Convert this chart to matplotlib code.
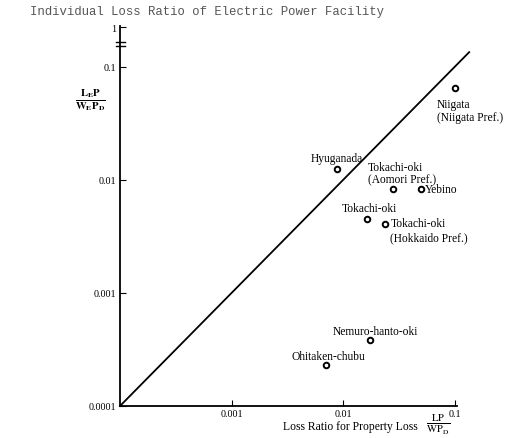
import matplotlib
matplotlib.use("Agg")
import matplotlib.pyplot as plt
from matplotlib.ticker import FixedLocator, FixedFormatter, NullLocator

plt.rcParams["font.family"] = ["Liberation Serif", "DejaVu Serif"]
plt.rcParams["mathtext.fontset"] = "stix"

# Earthquake events: property loss ratio (x) vs electric power facility loss ratio (y)
events = ["Niigata\n(Niigata Pref.)", "Hyuganada", "Tokachi-oki\n(Aomori Pref.)",
          "Yebino", "Tokachi-oki", "Tokachi-oki\n(Hokkaido Pref.)",
          "Nemuro-hanto-oki", "Ohitaken-chubu"]
property_loss = [0.100, 0.0088, 0.028, 0.050, 0.0164, 0.0237, 0.0174, 0.0070]
power_loss = [0.065, 0.0125, 0.0083, 0.0083, 0.0045, 0.0041, 0.00038, 0.00023]

# label placement (offset in points, alignment, line spacing)
label_style = [
    ((-13, -7), "left", "top", 1.1),
    ((0, 8), "center", "center", 1.1),
    ((-18, 20.5), "left", "top", 1.05),
    ((3, 0), "left", "center", 1.1),
    ((2, 8), "center", "center", 1.1),
    ((4, 4.5), "left", "top", 1.25),
    ((4, 6.5), "center", "center", 1.1),
    ((1.5, 6.5), "center", "center", 1.1),
]

x_ticks = [0.001, 0.01, 0.1]
x_tick_labels = ["0.001", "0.01", "0.1"]
y_ticks = [0.0001, 0.001, 0.01, 0.1, 0.225]
y_tick_labels = ["0.0001", "0.001", "0.01", "0.1", "1"]
diag = [0.0001, 0.135]

fig = plt.figure(figsize=(5.12, 4.39), dpi=100)
ax = fig.add_axes([120 / 512, 32 / 439, 337 / 512, 380 / 439])
ax.set_xscale("log")
ax.set_yscale("log")
ax.set_xlim(1e-4, 0.105)
ax.set_ylim(1e-4, 0.23)

for s in ["top", "right"]:
    ax.spines[s].set_visible(False)
for s in ["left", "bottom"]:
    ax.spines[s].set_linewidth(1.3)

ax.xaxis.set_major_locator(FixedLocator(x_ticks))
ax.xaxis.set_major_formatter(FixedFormatter(x_tick_labels))
ax.yaxis.set_major_locator(FixedLocator(y_ticks))
ax.yaxis.set_major_formatter(FixedFormatter(y_tick_labels))
ax.xaxis.set_minor_locator(NullLocator())
ax.yaxis.set_minor_locator(NullLocator())
ax.tick_params(direction="in", length=4, width=0.8, labelsize=7.3, pad=3)
ax.tick_params(axis="x", pad=2)

# 1:1 reference line
ax.plot(diag, diag, color="black", lw=1.3, clip_on=False)

ax.plot(property_loss, power_loss, "o", ms=4.0, mfc="white", mec="black",
        mew=1.4, clip_on=False, zorder=3)

for name, x, y, ((dx, dy), ha, va, ls) in zip(events, property_loss, power_loss, label_style):
    ax.annotate(name, (x, y), xytext=(dx, dy), textcoords="offset points",
                ha=ha, va=va, fontsize=8.3, linespacing=ls)

# axis break marks near the top of the y axis
for yb in (0.958, 0.947):
    ax.plot([-0.012, 0.015], [yb, yb], transform=ax.transAxes, color="black",
            lw=1.0, clip_on=False)

fig.text(30 / 512, 1 - 12 / 439, "Individual Loss Ratio of Electric Power Facility",
         family="Liberation Mono", fontsize=8.85, color="#555555", va="center", ha="left")

fig.text(90 / 512, 1 - 100 / 439, r"$\frac{\mathbf{L_E P}}{\mathbf{W_E P_D}}$",
         fontsize=11, ha="center", va="center")

# x axis title with its fraction
fig.text(418 / 512, 1 - 427 / 439, "Loss Ratio for Property Loss",
         fontsize=8.4, ha="right", va="center")
fig.text(438 / 512, 1 - 425 / 439, r"$\frac{\mathrm{LP}}{\mathrm{WP_D}}$",
         fontsize=11, ha="center", va="center")

fig.savefig("out.png", dpi=100)
